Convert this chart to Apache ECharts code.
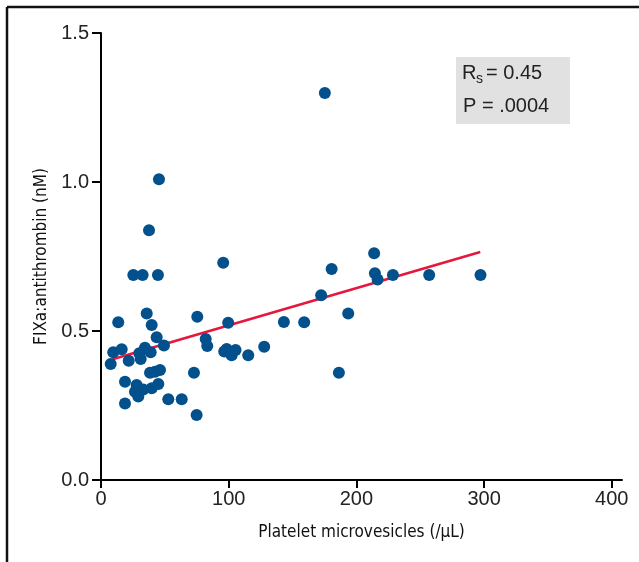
<!DOCTYPE html>
<html>
<head>
<meta charset="utf-8">
<script src="https://cdn.jsdelivr.net/npm/echarts@6/dist/echarts.min.js"></script>
<style>
  html, body { margin: 0; padding: 0; background: #fff; }
  #chart { width: 639px; height: 562px; }
</style>
</head>
<body>
<div id="chart"></div>
<script>
// platelet microvesicles (/uL) vs FIXa:antithrombin (nM)
var pmv = [7.6, 9.6, 13.5, 16.2, 18.8, 18.8, 21.7, 25.3, 27.9, 26.6,
  29.2, 30.0, 30.0, 31.1, 32.6, 34.4, 35.8, 37.6, 38.9, 38.4,
  33.1, 39.7, 39.7, 42.3, 43.6, 44.6, 44.9, 45.4, 46.2, 49.3,
  52.7, 63.2, 72.8, 74.9, 75.4, 82.0, 83.2, 95.7, 96.5, 98.4,
  99.6, 102.3, 105.4, 115.3, 127.8, 143.2, 159.1, 172.4, 175.3, 180.6,
  186.3, 193.6, 213.9, 214.5, 216.6, 228.6, 257.0, 297.2]
var fixaAt = [0.389, 0.429, 0.529, 0.439, 0.330, 0.257, 0.400, 0.688, 0.319, 0.296,
  0.280, 0.302, 0.425, 0.406, 0.688, 0.444, 0.559, 0.838, 0.429, 0.360,
  0.304, 0.308, 0.520, 0.363, 0.479, 0.688, 0.322, 1.009, 0.369, 0.451,
  0.271, 0.271, 0.360, 0.218, 0.548, 0.473, 0.450, 0.729, 0.431, 0.440,
  0.528, 0.419, 0.436, 0.419, 0.447, 0.530, 0.529, 0.620, 1.299, 0.708,
  0.360, 0.559, 0.761, 0.694, 0.673, 0.688, 0.688, 0.688]

// regression line end points
var fitX = [9, 297]
var fitY = [0.405, 0.765]

var xTicks = [0, 100, 200, 300, 400]

var chart = echarts.init(document.getElementById('chart'))

var numFont = '"Liberation Sans", Arial, sans-serif'
var nameFont = '"Liberation Sans Narrow", "DejaVu Sans Condensed", "Roboto Condensed", "Liberation Sans", sans-serif'

chart.setOption({
  animation: false,
  grid: {
    left: 101,
    right: 17,
    top: 33,
    bottom: 82
  },
  xAxis: {
    type: 'value',
    min: 0,
    max: 408,
    name: 'Platelet microvesicles (/\u03bcL)',
    nameLocation: 'middle',
    nameGap: 44,
    nameTextStyle: { fontFamily: nameFont, fontSize: 17, color: '#111' },
    splitLine: { show: false },
    axisLine: { lineStyle: { color: '#000', width: 2 } },
    axisTick: { length: 8, lineStyle: { color: '#000', width: 2 }, customValues: xTicks },
    axisLabel: { customValues: xTicks, fontFamily: numFont, fontSize: 20, color: '#222', margin: 9 }
  },
  yAxis: {
    type: 'value',
    min: 0,
    max: 1.5,
    interval: 0.5,
    name: 'FIXa:antithrombin (nM)',
    nameLocation: 'middle',
    nameGap: 51,
    nameTextStyle: { fontFamily: nameFont, fontSize: 17, color: '#111' },
    splitLine: { show: false },
    axisLine: { show: true, lineStyle: { color: '#000', width: 2 } },
    axisTick: { show: true, length: 9, lineStyle: { color: '#000', width: 2 } },
    axisLabel: {
      fontFamily: numFont, fontSize: 20, color: '#222', margin: 12,
      formatter: function (v) { return v.toFixed(1) }
    }
  },
  series: [
    {
      type: 'scatter',
      symbolSize: 12,
      itemStyle: { color: '#02508c', opacity: 1 },
      data: pmv.map(function (x, i) { return [x, fixaAt[i]] }),
      z: 3
    },
    {
      type: 'line',
      symbol: 'none',
      lineStyle: { color: '#e6173c', width: 2.5 },
      data: fitX.map(function (x, i) { return [x, fitY[i]] }),
      z: 2
    }
  ],
  graphic: [
    // frame
    { type: 'line', shape: { x1: 7, y1: 7, x2: 639, y2: 7 }, style: { stroke: '#111', lineWidth: 2.5 } },
    { type: 'line', shape: { x1: 7, y1: 7, x2: 7, y2: 562 }, style: { stroke: '#111', lineWidth: 2.5 } },
    // stats box
    { type: 'rect', shape: { x: 456, y: 57, width: 114, height: 67 }, style: { fill: '#e1e1e1' } },
    { type: 'text', x: 462, y: 63, style: { text: 'R', font: '20px ' + numFont, fill: '#222' } },
    { type: 'text', x: 476, y: 72, style: { text: 's', font: '14px ' + numFont, fill: '#222' } },
    { type: 'text', x: 486, y: 63, style: { text: '= 0.45', font: '20px ' + numFont, fill: '#222' } },
    { type: 'text', x: 463, y: 96, style: { text: 'P = .0004', font: '20px ' + numFont, fill: '#222' } }
  ]
})
</script>
</body>
</html>
